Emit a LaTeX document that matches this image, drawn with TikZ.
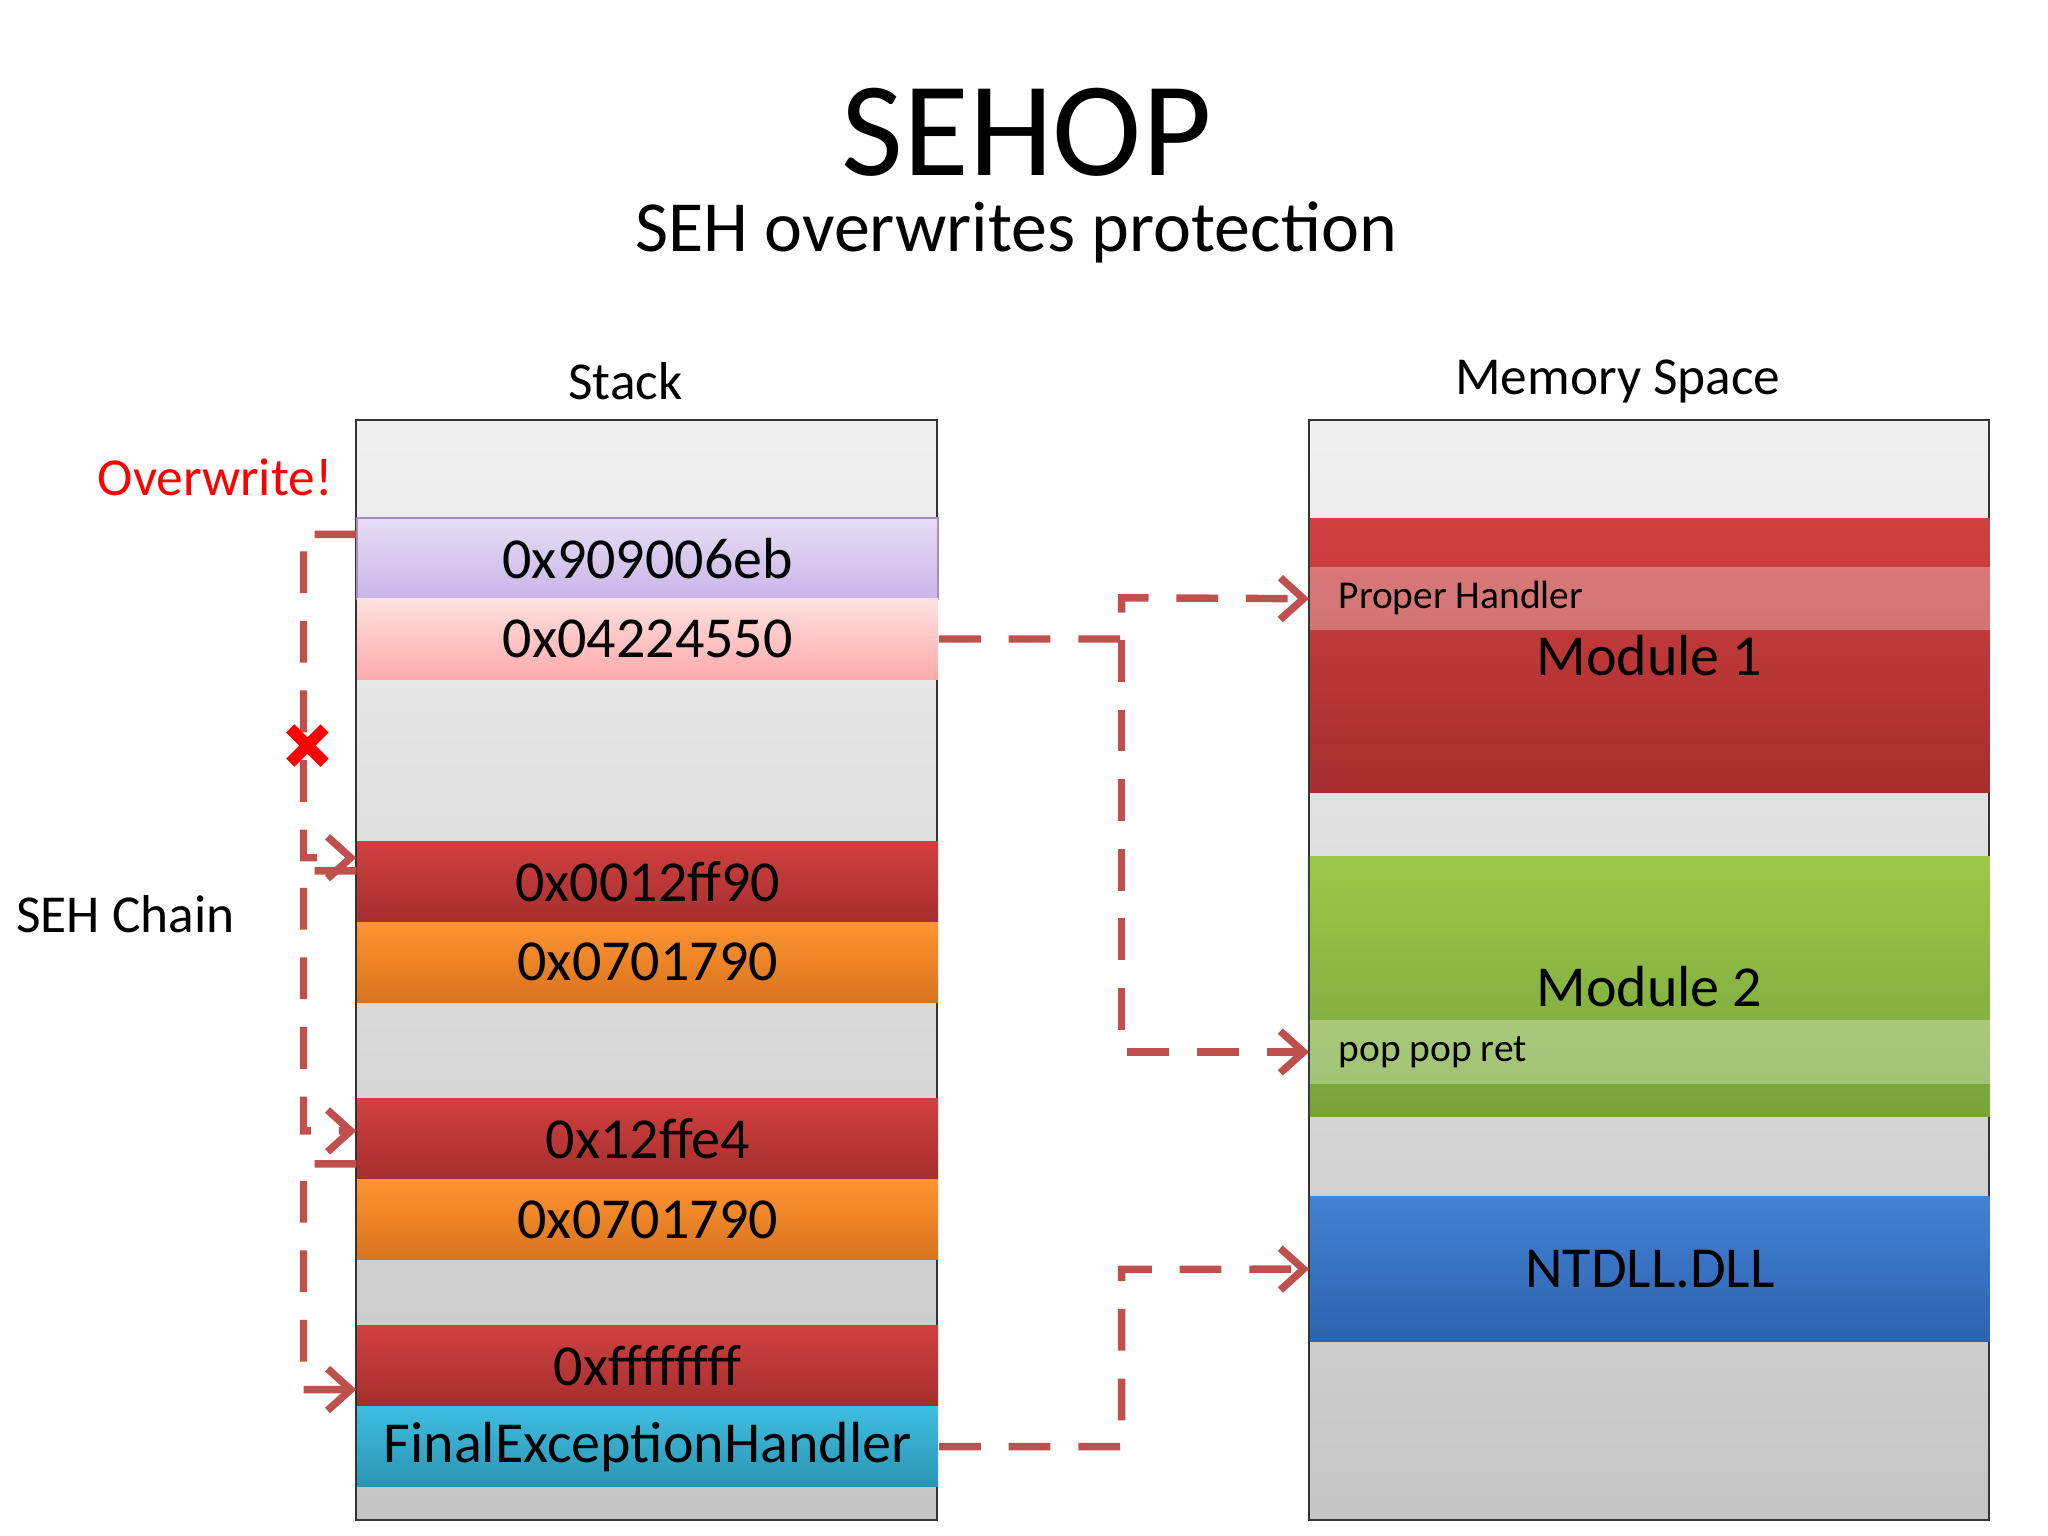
\documentclass[tikz,border=0pt]{standalone}
\usepackage{fontspec}
\setmainfont{Carlito}
\usetikzlibrary{arrows.meta}
\definecolor{arr}{HTML}{C0504D}
\definecolor{rt}{HTML}{D24040}\definecolor{rb}{HTML}{A52E2E}
\definecolor{ot}{HTML}{FF9430}\definecolor{ob}{HTML}{D8731E}
\definecolor{pt}{HTML}{E6DDF5}\definecolor{pb}{HTML}{C9B5E8}
\definecolor{kt}{HTML}{FFE0E0}\definecolor{kb}{HTML}{FFAAAA}
\definecolor{ct}{HTML}{40BEE0}\definecolor{cb}{HTML}{2A94B4}
\definecolor{gt}{HTML}{9CC84A}\definecolor{gb}{HTML}{76A43A}
\definecolor{bt}{HTML}{4282D4}\definecolor{bb}{HTML}{2D62AE}
\begin{document}
\begin{tikzpicture}[x=0.01cm,y=-0.01cm,
 cell/.style={draw=none,minimum width=4.4cm,minimum height=0.61cm,inner sep=0,anchor=north west,font=\fontsize{12.5}{12.5}\selectfont},
 mod/.style={inner sep=0,anchor=north west,minimum width=5.15cm},
 con/.style={draw=arr,line width=1.6pt,dash pattern=on 9pt off 6pt,-{Straight Barb[length=5pt,width=9pt]}},
 lbl/.style={font=\fontsize{11.5}{11.5}\selectfont}]
\useasboundingbox (0,0) rectangle (1552,1164);
\node[font=\fontsize{29}{29}\selectfont] (title) at (778,100) {SEHOP};
\node[font=\fontsize{15.5}{15.5}\selectfont] (sub) at (770,176) {SEH overwrites protection};
\node[lbl] (st) at (474,289) {Stack};
\node[lbl] (ms) at (1226,289) {Memory Space};
\node[lbl,text=red] (ow) at (163,362) {Overwrite!};
\node[lbl] (sc) at (95,693) {SEH Chain};
% stack
\shade[top color=gray!12,bottom color=gray!45] (270,318) rectangle (710,1152);
\draw[black!80] (270,318) rectangle (710,1152);
\node[cell,top color=pt,bottom color=pb,draw=pb!80!black] (a1) at (270,392) {0x909006eb};
\node[cell,top color=kt,bottom color=kb] (a2) at (270,453) {0x04224550};
\node[cell,top color=rt,bottom color=rb] (b1) at (270,637) {0x0012ff90};
\node[cell,top color=ot,bottom color=ob] (b2) at (270,698) {0x0701790};
\node[cell,top color=rt,bottom color=rb] (c1) at (270,832) {0x12ffe4};
\node[cell,top color=ot,bottom color=ob] (c2) at (270,893) {0x0701790};
\node[cell,top color=rt,bottom color=rb] (d1) at (270,1004) {0xffffffff};
\node[cell,top color=ct,bottom color=cb] (d2) at (270,1065) {FinalExceptionHandler};
% memory
\shade[top color=gray!12,bottom color=gray!45] (992,318) rectangle (1507,1152);
\draw[black!80] (992,318) rectangle (1507,1152);
\node[mod,minimum height=2.08cm,top color=rt,bottom color=rb] (m1) at (992,392) {};
\node[mod,minimum height=0.48cm,fill=white,fill opacity=0.3] (ph) at (992,429) {};
\node[anchor=west,font=\fontsize{8.5}{8.5}\selectfont] (pht) at (1002,453) {Proper Handler};
\node[font=\fontsize{12.5}{12.5}\selectfont] (m1t) at (1250,497) {Module 1};
\node[mod,minimum height=1.97cm,top color=gt,bottom color=gb] (m2) at (992,648) {};
\node[mod,minimum height=0.49cm,fill=white,fill opacity=0.3] (pp) at (992,772) {};
\node[anchor=west,font=\fontsize{8.5}{8.5}\selectfont] (ppt) at (1002,797) {pop pop ret};
\node[font=\fontsize{12.5}{12.5}\selectfont] (m2t) at (1250,748) {Module 2};
\node[mod,minimum height=1.1cm,top color=bt,bottom color=bb,font=\fontsize{12.5}{12.5}\selectfont] (nt) at (992,906) {NTDLL.DLL};
% chain arrows
\draw[con] ([yshift=-0.13cm]a1.north west) -| (230,650) -- ([yshift=-0.13cm]b1.north west);
\draw[con] ([yshift=-0.23cm]b1.north west) -| (230,857) -- ([yshift=-0.25cm]c1.north west);
\draw[con] ([yshift=-0.5cm]c1.north west) -| (230,1053) -- ([yshift=-0.49cm]d1.north west);
\draw[red,line width=2.5pt] (220,552) -- (246,578) (246,552) -- (220,578);
\draw[con] (a2.east) -| (850,453) -- (ph.west);
\draw[con] (850,485) |- (pp.west);
\draw[con] (d2.east) -| (850,962) -- (nt.west);
\end{tikzpicture}
\end{document}
